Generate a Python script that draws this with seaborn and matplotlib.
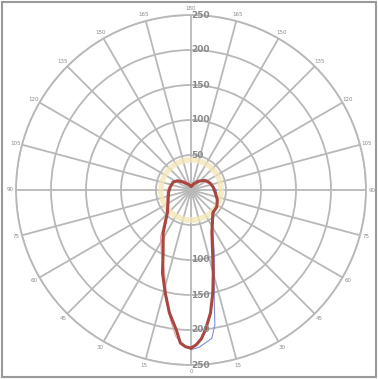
import numpy as np
import pandas as pd
import seaborn as sns
import matplotlib.pyplot as plt
from matplotlib.patches import Rectangle

# C0 / C180 plane (thick), gamma measured from nadir
c0_gamma = [0, 2, 4, 6, 9, 12, 15, 19, 26, 33, 44, 57, 70, 83, 97, 110, 125, 138, 155, 170, 180]
c0_value = [226, 221, 213, 200, 178, 150, 123, 95, 68, 56, 45, 44, 40, 35, 32, 29, 24, 17, 10, 6, 5]
c180_gamma = [0, 2, 4, 6, 10, 14, 19, 24, 33, 46, 60, 73, 85, 98, 114, 125, 135, 150, 165, 180]
c180_value = [226, 224, 219, 201, 178, 152, 125, 98, 73, 47, 38, 34, 32, 30, 28, 23, 16, 10, 7, 5]

# C90 / C270 plane (thin)
c90_gamma = [0, 3, 6, 8, 10, 12, 15, 20, 30, 45, 60, 90, 120, 150, 180]
c90_value = [228, 225, 218, 214, 196, 160, 128, 97, 62, 46, 43, 36, 28, 15, 5]
c270_gamma = [0, 3, 6, 9, 12, 15, 19, 25, 33, 45, 60, 90, 120, 150, 180]
c270_value = [228, 222, 210, 188, 165, 140, 118, 100, 80, 50, 40, 34, 27, 15, 5]

# faint reference ring
ring_value = 43

r_ticks = [50, 100, 150, 200, 250]
ang_ticks = list(range(0, 360, 15))


def plane(gamma, value, side):
    g = np.array(gamma, dtype=float)
    th = np.deg2rad(g if side > 0 else 360 - g)
    return pd.DataFrame({"theta": th, "r": value})


sns.set_style("white")
fig = plt.figure(figsize=(3.78, 3.79), dpi=100)
ax = fig.add_axes([16 / 378, 14 / 379, 350 / 378, 350 / 379], projection="polar")
ax.set_theta_zero_location("S")
ax.set_theta_direction(1)
ax.set_ylim(0, 250)

ax.set_xticks(np.deg2rad(ang_ticks))
ax.set_yticks(r_ticks)
ax.set_xticklabels([])
ax.set_yticklabels([])
ax.grid(True, color="#b8b8b8", lw=1.3)
ax.spines["polar"].set_color("#b8b8b8")
ax.spines["polar"].set_linewidth(1.3)
ax.set_facecolor("white")

th = np.linspace(0, 2 * np.pi, 200)
ax.plot(th, np.full_like(th, ring_value), color="#f3e6b8", lw=4, alpha=0.8)

d = plane(c270_gamma, c270_value, -1)
sns.lineplot(data=d, x="theta", y="r", sort=False, ax=ax, color="#eaa5ad", lw=0.8)
d = plane(c90_gamma, c90_value, 1)
sns.lineplot(data=d, x="theta", y="r", sort=False, ax=ax, color="#7d8fd2", lw=0.8)
d = plane(c0_gamma, c0_value, 1)
sns.lineplot(data=d, x="theta", y="r", sort=False, ax=ax, color="#a8463f", lw=2.2)
d = plane(c180_gamma, c180_value, -1)
sns.lineplot(data=d, x="theta", y="r", sort=False, ax=ax, color="#a8463f", lw=2.2)
ax.set_xlabel("")
ax.set_ylabel("")

# radial labels along the vertical axis, top and bottom
for v in r_ticks:
    ax.text(np.deg2rad(180), v, str(v), fontsize=6.5, color="#8a8a8a",
            ha="left", va="center", fontweight="bold")
    if v > 50:
        ax.text(np.deg2rad(0), v, str(v), fontsize=6.5, color="#8a8a8a",
                ha="left", va="center", fontweight="bold")

# angle labels just outside the rim
for a in ang_ticks:
    lab = a if a <= 180 else 360 - a
    ax.text(np.deg2rad(a), 259, str(lab), fontsize=4, color="#8a8a8a",
            ha="center", va="center", clip_on=False)

fig.patches.append(Rectangle((0.004, 0.004), 0.992, 0.992, transform=fig.transFigure,
                             fill=False, edgecolor="#9a9a9a", lw=1.5))

plt.savefig("out.png", dpi=100)
